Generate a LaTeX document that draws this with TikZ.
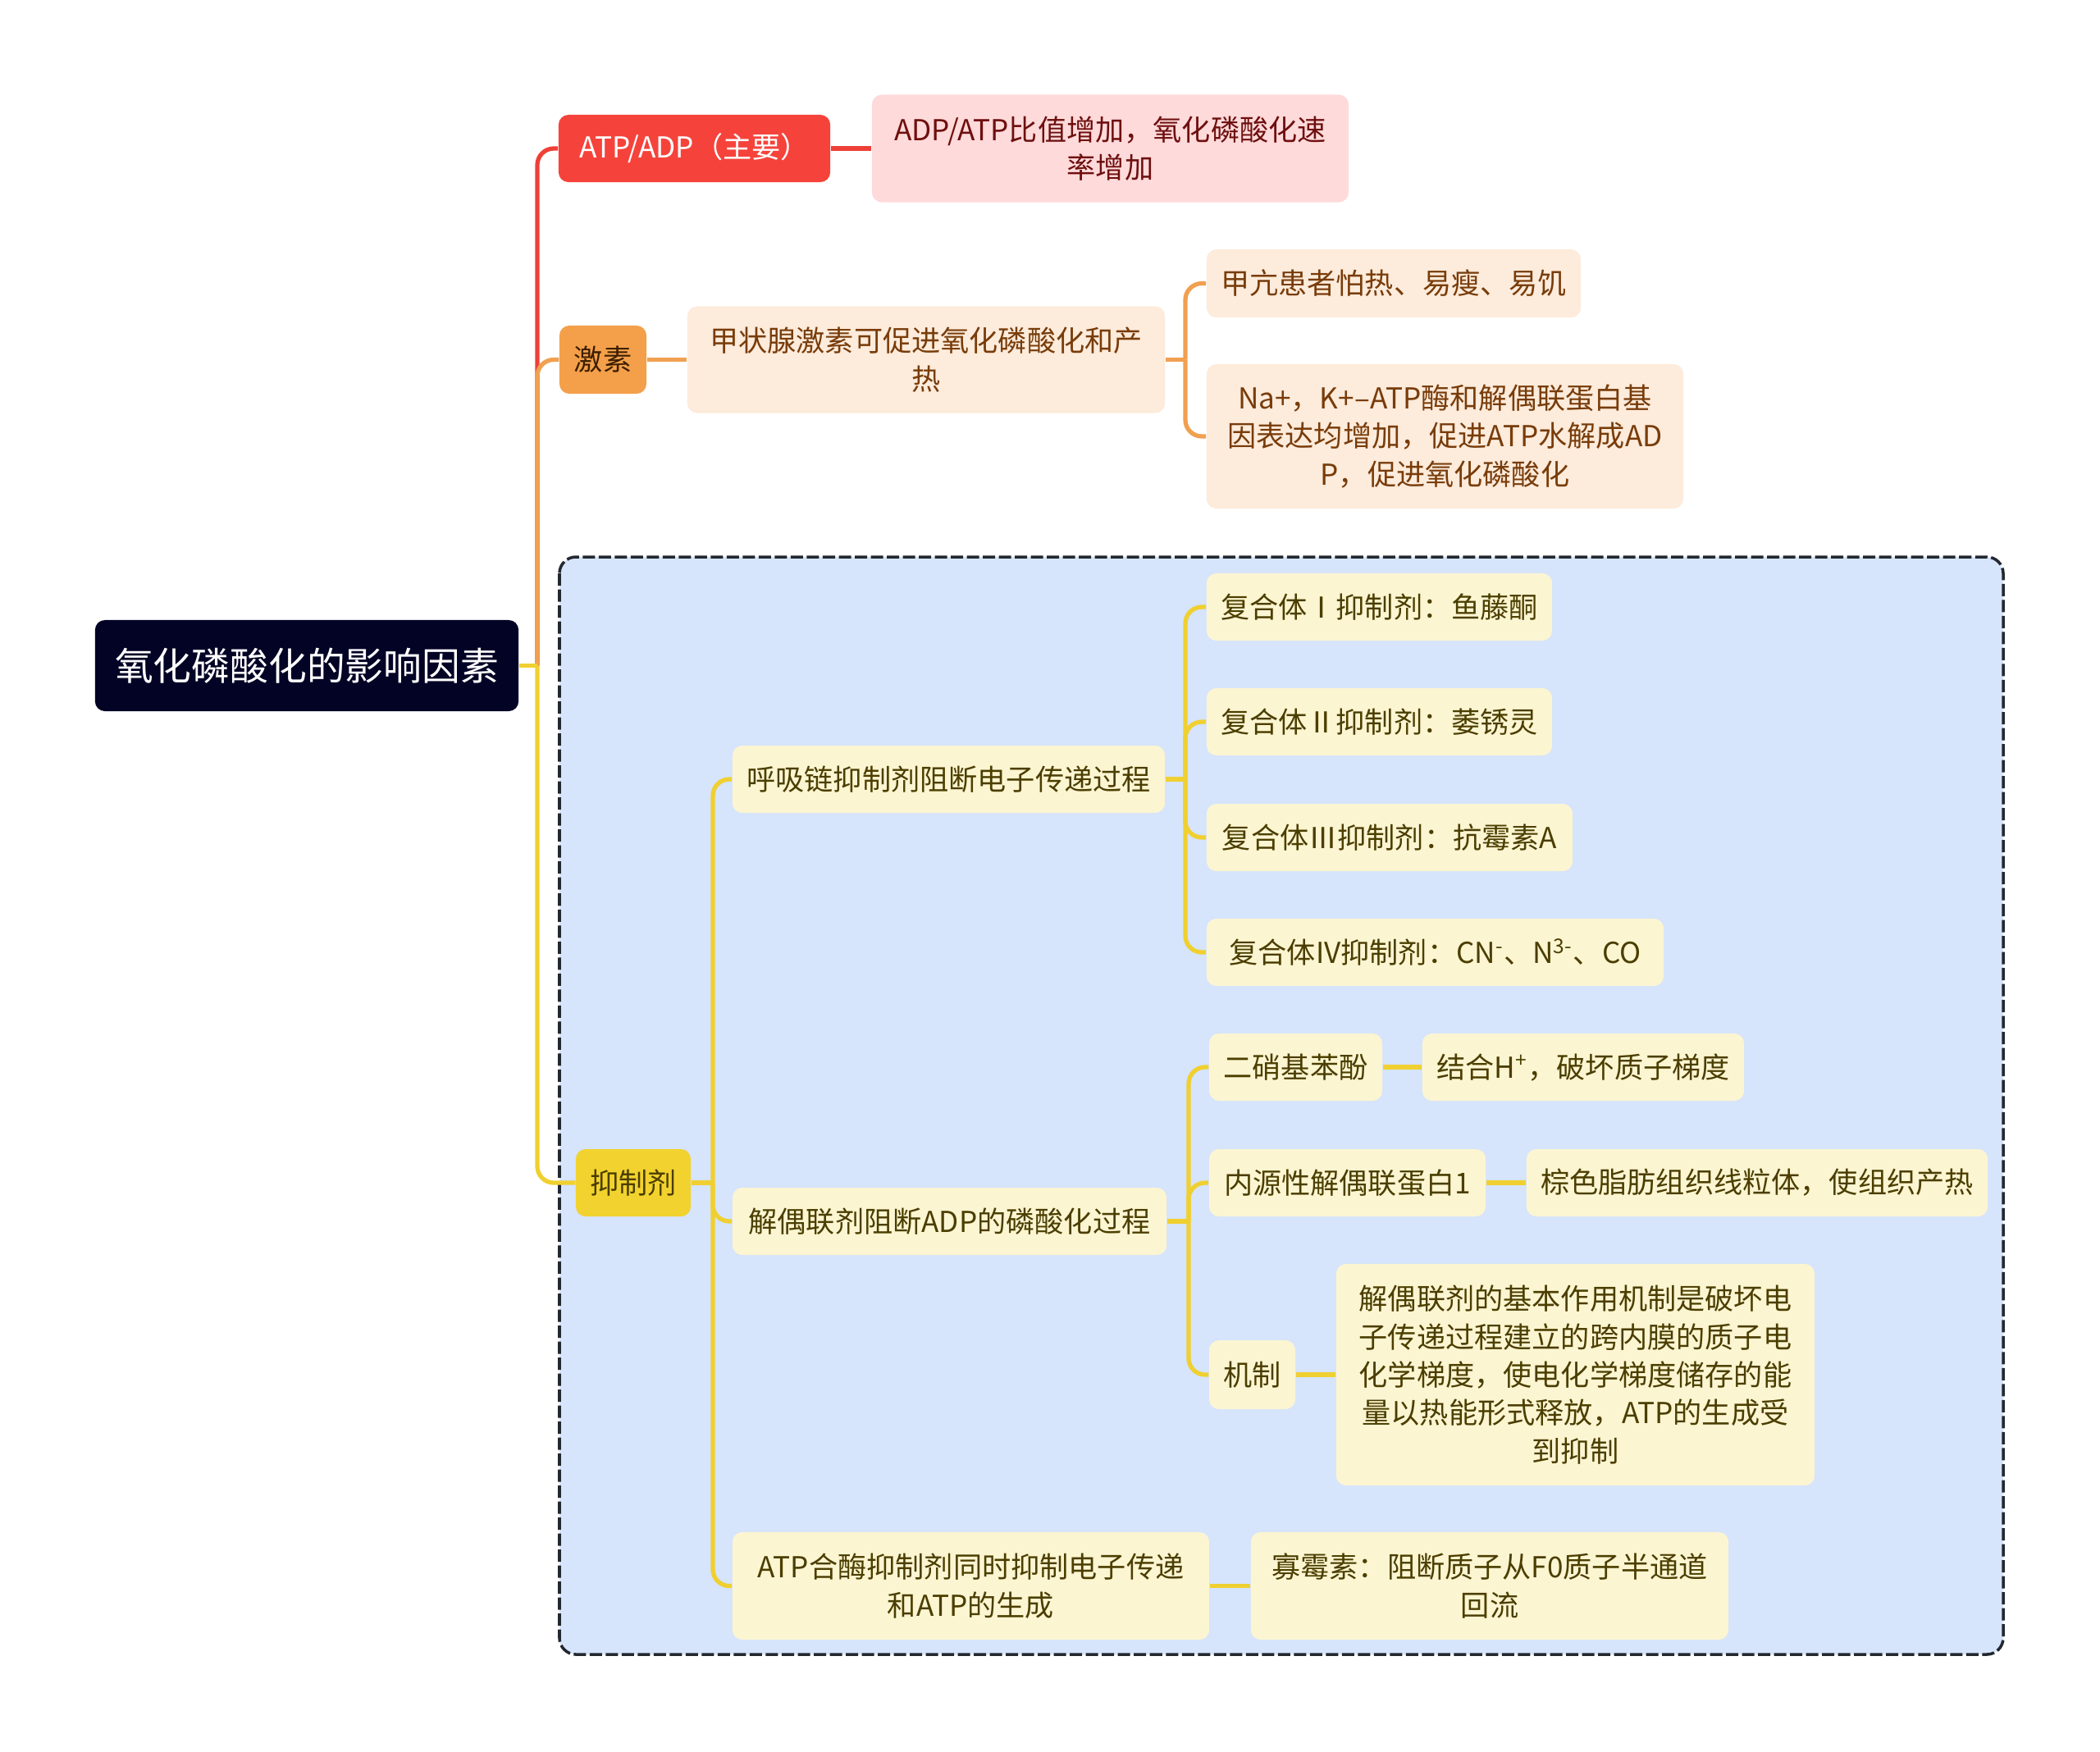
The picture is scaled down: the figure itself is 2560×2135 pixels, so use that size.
\documentclass[tikz,border=0pt]{standalone}
\usepackage{fontspec}
\setmainfont{Noto Sans CJK SC}
\definecolor{redfill}{RGB}{245,67,59}
\definecolor{pinkfill}{RGB}{255,218,218}
\definecolor{pinktext}{RGB}{110,15,15}
\definecolor{orangefill}{RGB}{244,160,74}
\definecolor{orangelight}{RGB}{253,235,219}
\definecolor{browntext}{RGB}{120,60,10}
\definecolor{darkbrown}{RGB}{60,30,0}
\definecolor{yellowfill}{RGB}{242,210,46}
\definecolor{yellowlight}{RGB}{252,245,210}
\definecolor{olivetext}{RGB}{75,62,0}
\definecolor{bluebg}{RGB}{214,228,252}
\definecolor{rootfill}{RGB}{3,3,38}
\definecolor{redline}{RGB}{238,64,56}
\definecolor{orangeline}{RGB}{240,160,80}
\definecolor{yellowline}{RGB}{240,208,48}
\definecolor{dashcol}{RGB}{35,40,48}
\tikzset{
  base/.style={rounded corners=0.12cm, inner sep=0pt, align=center, font=\fontsize{10}{13.2}\selectfont},
  rootbox/.style={base, fill=rootfill, text=white, font=\fontsize{13.3}{16}\selectfont},
  redbox/.style={base, fill=redfill, text=white},
  pinkbox/.style={base, fill=pinkfill, text=pinktext},
  orbox/.style={base, fill=orangefill, text=darkbrown},
  orlight/.style={base, fill=orangelight, text=browntext},
  yebox/.style={base, fill=yellowfill, text=olivetext},
  yelight/.style={base, fill=yellowlight, text=olivetext},
  conn/.style={line width=1.5pt, rounded corners=0.2cm},
  redc/.style={conn, draw=redline},
  orc/.style={conn, draw=orangeline},
  yec/.style={conn, draw=yellowline},
}
\begin{document}
\begin{tikzpicture}[x=0.01cm, y=-0.01cm]
\useasboundingbox (0,0) rectangle (2560,2135);
% dashed summary region
\draw[fill=bluebg, draw=dashcol, line width=1pt, dash pattern=on 0.15cm off 0.045cm, rounded corners=0.2cm] (682,679) rectangle (2442,2017);

% nodes
\node[rootbox, minimum width=5.16cm, minimum height=1.11cm] (root) at (374,811.5) {氧化磷酸化的影响因素};
\node[redbox, minimum width=3.31cm, minimum height=0.82cm] (atp) at (846.5,181) {ATP/ADP（主要）};
\node[pinkbox, minimum width=5.81cm, minimum height=1.31cm] (atpd) at (1353.5,181) {ADP/ATP比值增加，氧化磷酸化速\\率增加};
\node[orbox, minimum width=1.06cm, minimum height=0.83cm] (hor) at (735,438.5) {激素};
\node[orlight, minimum width=5.82cm, minimum height=1.30cm] (thy) at (1129,438.5) {甲状腺激素可促进氧化磷酸化和产\\热};
\node[orlight, minimum width=4.56cm, minimum height=0.83cm] (hyper) at (1699,345.5) {甲亢患者怕热、易瘦、易饥};
\node[orlight, minimum width=5.81cm, minimum height=1.76cm] (na) at (1761.5,532) {Na+，K+–ATP酶和解偶联蛋白基\\因表达均增加，促进ATP水解成AD\\P，促进氧化磷酸化};
\node[yebox, minimum width=1.40cm, minimum height=0.82cm] (inh) at (772,1442) {抑制剂};
\node[yelight, minimum width=5.27cm, minimum height=0.82cm] (resp) at (1156.5,950) {呼吸链抑制剂阻断电子传递过程};
\node[yelight, minimum width=4.21cm, minimum height=0.82cm] (c1) at (1681.5,740) {复合体Ⅰ抑制剂：鱼藤酮};
\node[yelight, minimum width=4.21cm, minimum height=0.82cm] (c2) at (1681.5,880) {复合体Ⅱ抑制剂：萎锈灵};
\node[yelight, minimum width=4.46cm, minimum height=0.82cm] (c3) at (1694,1021) {复合体Ⅲ抑制剂：抗霉素A};
\node[yelight, minimum width=5.57cm, minimum height=0.82cm] (c4) at (1749.5,1161) {复合体IV抑制剂：CN\textsuperscript{-}、N\textsuperscript{3-}、CO};
\node[yelight, minimum width=5.29cm, minimum height=0.82cm] (unc) at (1157.5,1489) {解偶联剂阻断ADP的磷酸化过程};
\node[yelight, minimum width=2.11cm, minimum height=0.82cm] (dnp) at (1579.5,1301) {二硝基苯酚};
\node[yelight, minimum width=3.92cm, minimum height=0.82cm] (dnpd) at (1930,1301) {结合H\textsuperscript{+}，破坏质子梯度};
\node[yelight, minimum width=3.37cm, minimum height=0.82cm] (ucp) at (1642.5,1442) {内源性解偶联蛋白1};
\node[yelight, minimum width=5.62cm, minimum height=0.82cm] (ucpd) at (2142,1442) {棕色脂肪组织线粒体，使组织产热};
\node[yelight, minimum width=1.05cm, minimum height=0.84cm] (mech) at (1526.5,1676) {机制};
\node[yelight, minimum width=5.83cm, minimum height=2.70cm] (mechd) at (1920.5,1676) {解偶联剂的基本作用机制是破坏电\\子传递过程建立的跨内膜的质子电\\化学梯度，使电化学梯度储存的能\\量以热能形式释放，ATP的生成受\\到抑制};
\node[yelight, minimum width=5.81cm, minimum height=1.31cm] (atps) at (1183.5,1933.5) {ATP合酶抑制剂同时抑制电子传递\\和ATP的生成};
\node[yelight, minimum width=5.82cm, minimum height=1.31cm] (oligo) at (1816,1933.5) {寡霉素：阻断质子从F0质子半通道\\回流};

% connectors from root
\coordinate (rj) at (655,811.5);
\draw[redc] (rj) |- (atp.west);
\draw[orc] (rj) |- (hor.west);
\draw[yec] (rj) |- (inh.west);
\draw[yec] (root.east) -- (rj);

% red / orange straight
\draw[redc] (atp.east) -- (atp.east -| atpd.west);
\draw[orc] (hor.east) -- (hor.east -| thy.west);

% thyroid children
\coordinate (tj) at (1445,438.5);
\draw[orc] (thy.east) -- (tj);
\draw[orc] (tj) |- (hyper.west);
\draw[orc] (tj) |- (na.west);

% inhibitors
\coordinate (ij) at (869,1442);
\draw[yec] (inh.east) -- (ij);
\draw[yec] (ij) |- (resp.west);
\draw[yec] (ij) |- (unc.west);
\draw[yec] (ij) |- (atps.west);

\coordinate (pj) at (1445,950);
\draw[yec] (resp.east) -- (pj);
\draw[yec] (pj) |- (c1.west);
\draw[yec] (pj) |- (c2.west);
\draw[yec] (pj) |- (c3.west);
\draw[yec] (pj) |- (c4.west);

\coordinate (uj) at (1449,1489);
\draw[yec] (unc.east) -- (uj);
\draw[yec] (uj) |- (dnp.west);
\draw[yec] (uj) |- (ucp.west);
\draw[yec] (uj) |- (mech.west);

\draw[yec] (dnp.east) -- (dnp.east -| dnpd.west);
\draw[yec] (ucp.east) -- (ucp.east -| ucpd.west);
\draw[yec] (mech.east) -- (mech.east -| mechd.west);
\draw[yec] (atps.east) -- (atps.east -| oligo.west);
\end{tikzpicture}
\end{document}
